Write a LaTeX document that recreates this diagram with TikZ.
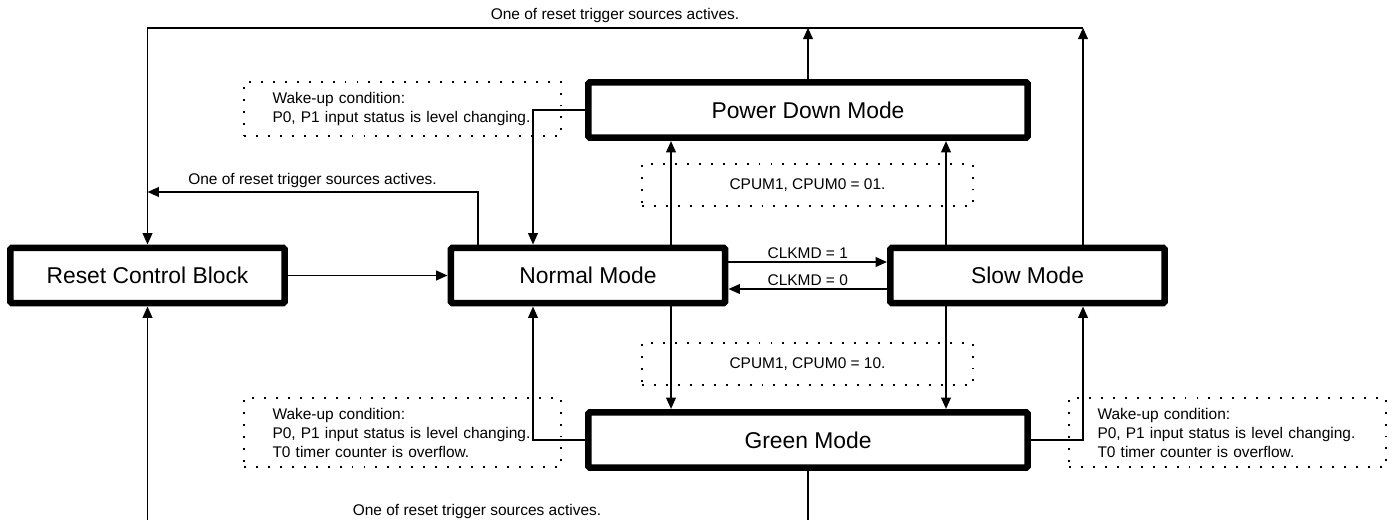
\documentclass[tikz,border=0pt]{standalone}
\usepackage{fontspec}
\setmainfont{Liberation Sans}
\usetikzlibrary{arrows.meta, calc}

\begin{document}
\begin{tikzpicture}[x=0.02cm, y=-0.02cm, line width=1.1pt, >={Triangle[length=6.5pt, width=5.5pt]},
	mode/.style={draw, line width=3.7pt, rounded corners=1pt, minimum width=5.49cm, minimum height=1.11cm, font=\fontsize{13}{15}\selectfont},
	widemode/.style={mode, minimum width=8.79cm},
	cond/.style={draw, line width=1.1pt, dash pattern=on 1.1pt off 5.7pt, minimum width=6.62cm, minimum height=0.84cm, font=\fontsize{8.8}{10.8}\selectfont},
	wake/.style={cond, minimum width=6.34cm, minimum height=1.08cm, align=left, text width=5.2cm, inner xsep=0pt},
	note/.style={font=\fontsize{8.8}{10.8}\selectfont}]
	\def\Ytop{27.7}
	\def\Ymid{192}
	\def\Ybot{545}
	\def\Xa{671}
	\def\Xb{946}
	\def\Xl{533}
	\def\Xr{1083}

	\useasboundingbox (0,0) rectangle (1395,520);
	\clip (0,0) rectangle (1395,520);

	\node[mode] (reset) at (147.5,275.5) {Reset Control Block};
	\node[mode] (normal) at (588,275.5) {Normal Mode};
	\node[mode] (slow) at (1027.5,275.5) {Slow Mode};
	\node[widemode] (pdown) at (808,110) {Power Down Mode};
	\node[widemode] (green) at (808,440) {Green Mode};

	\node[wake] (wakepd) at (402.5,109) {Wake-up condition:\\P0, P1 input status is level changing.};
	\node[wake, minimum height=1.38cm] (wakegl) at (402.5,432.5) {Wake-up condition:\\P0, P1 input status is level changing.\\T0 timer counter is overflow.};
	\node[wake, minimum height=1.38cm] (wakegr) at (1227.5,432.5) {Wake-up condition:\\P0, P1 input status is level changing.\\T0 timer counter is overflow.};
	\node[cond] (cpumpd) at (807.5,185) {CPUM1, CPUM0 = 01.};
	\node[cond] (cpumgr) at (807.5,364) {CPUM1, CPUM0 = 10.};

	\coordinate (topL) at (147.5,\Ytop);
	\coordinate (topR) at (\Xr,\Ytop);
	\coordinate (midL) at (147.5,\Ymid);
	\coordinate (midR) at (478,\Ymid);
	\coordinate (botL) at (147.5,\Ybot);
	\coordinate (colA) at (\Xa,0);
	\coordinate (colB) at (\Xb,0);
	\coordinate (colL) at (\Xl,0);
	\coordinate (colR) at (\Xr,0);
	\coordinate (clkA) at (0,262);
	\coordinate (clkB) at (0,289);

	\draw[->] (pdown.north) -- (pdown.north |- topL);
	\draw[->] (slow.north -| colR) -- (topR);
	\draw[->] (topR) -- (topL) -- (reset.north);
	\node[note] (rsttop) at (615,16) {One of reset trigger sources actives.};

	\draw[->] (normal.north -| midR) -- (midR) -- (midL);
	\node[note] (rstmid) at (312.5,181) {One of reset trigger sources actives.};

	\draw[->] (green.south) -- (green.south |- botL) -- (botL) -- (reset.south);
	\node[note] (rstbot) at (477,511) {One of reset trigger sources actives.};

	\draw[->] (reset.east) -- (normal.west);
	\draw[->] (normal.east |- clkA) -- (slow.west |- clkA) node[note, midway, above=-1.8pt] (clkone) {CLKMD = 1};
	\draw[->] (slow.west |- clkB) -- (normal.east |- clkB) node[note, midway, above=-1.8pt] (clkzero) {CLKMD = 0};

	\draw[->] (normal.north -| colA) -- (pdown.south -| colA);
	\draw[->] (slow.north -| colB) -- (pdown.south -| colB);
	\draw[->] (normal.south -| colA) -- (green.north -| colA);
	\draw[->] (slow.south -| colB) -- (green.north -| colB);

	\draw[->] (pdown.west) -| (normal.north -| colL);
	\draw[->] (green.west) -| (normal.south -| colL);
	\draw[->] (green.east) -| (slow.south -| colR);
\end{tikzpicture}
\end{document}
